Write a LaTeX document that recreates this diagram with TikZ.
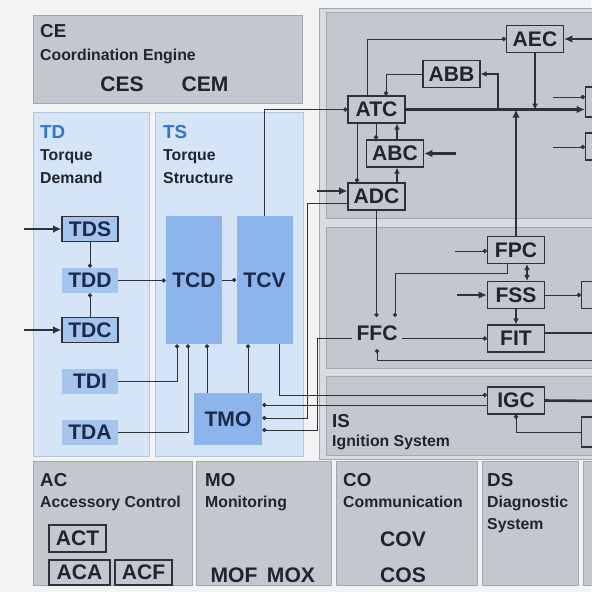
\documentclass[tikz,border=0pt]{standalone}
\usepackage{fontspec}
\setmainfont{Liberation Sans}
\usetikzlibrary{arrows.meta}

\definecolor{fondo}{HTML}{F1F3F5}
\definecolor{grigio}{HTML}{C4C8CE}
\definecolor{grigiochiaro}{HTML}{D8DBDF}
\definecolor{bordo}{HTML}{A2A7AE}
\definecolor{azzurro}{HTML}{D5E4F6}
\definecolor{bordoazz}{HTML}{B2C6DE}
\definecolor{blu}{HTML}{8CB5EC}
\definecolor{blumedio}{HTML}{A5C5EF}
\definecolor{titblu}{HTML}{2F74D0}
\definecolor{testo}{HTML}{1E2430}
\definecolor{testoazz}{HTML}{1C2A48}
\definecolor{filo}{HTML}{2E3138}

\newcommand\blkfont{\fontsize{18}{18}\selectfont\bfseries}
\newcommand\siglafont{\fontsize{16}{16}\selectfont\bfseries}
\newcommand\nomefont{\fontsize{13.5}{13.5}\selectfont\bfseries}

\begin{document}
\begin{tikzpicture}[x=0.03cm, y=-0.03cm,
  pan/.style={fill=grigio, draw=bordo, line width=0.6pt},
  panazz/.style={fill=azzurro, draw=bordoazz, line width=0.6pt},
  sigla/.style={anchor=base west, inner sep=0pt, font=\siglafont, text=testo},
  nome/.style={anchor=base west, inner sep=0pt, font=\nomefont, text=testo},
  blk/.style={draw=filo, line width=1.1pt, fill=grigio, inner sep=0pt,
    minimum width=1.71cm, minimum height=0.81cm, font=\blkfont, text=testo},
  blkazz/.style={blk, fill=blumedio, minimum width=1.68cm, minimum height=0.75cm, text=testoazz},
  blkpiano/.style={fill=blumedio, inner sep=0pt, minimum width=1.68cm,
    minimum height=0.75cm, font=\blkfont, text=testoazz},
  colonna/.style={fill=blu, inner sep=0pt, minimum width=1.68cm,
    minimum height=3.84cm, font=\blkfont, text=testoazz},
  nudo/.style={inner sep=0pt, font=\blkfont, text=testo},
  sottile/.style={draw=filo, line width=0.8pt, -{Circle[length=3.6pt]}},
  spesso/.style={draw=filo, line width=2.2pt, -{Latex[length=7pt,width=6.5pt]}},
  medio/.style={draw=filo, line width=1.6pt, -{Latex[length=5pt,width=5pt]}}]

\useasboundingbox (0,0) rectangle (591,592);
\fill[fondo] (0,0) rectangle (591,592);

% pannelli
\draw[pan] (33,15) rectangle (302,103);
\draw[panazz] (33,112) rectangle (149,456);
\draw[panazz] (155,112) rectangle (303,456);
\draw[fill=grigiochiaro, draw=bordo, line width=0.6pt] (319,8) rectangle (598,459);
\draw[pan] (326,12) rectangle (598,218);
\draw[pan] (326,227) rectangle (598,368);
\draw[pan] (326,376) rectangle (598,455);
\draw[pan] (33,461) rectangle (192,585);
\draw[pan] (196,461) rectangle (331,585);
\draw[pan] (336,461) rectangle (477,585);
\draw[pan] (482,461) rectangle (578,585);
\draw[pan] (583,461) rectangle (598,585);

% titoli
\node[sigla] (ce) at (40,38) {CE};
\node[nome] (cenome) at (40,61) {Coordination Engine};
\node[nudo, anchor=base] (ces) at (122,92) {CES};
\node[nudo, anchor=base] (cem) at (205,92) {CEM};
\node[sigla, text=titblu] (td) at (40,139) {TD};
\node[nome] (tdnome1) at (40,161) {Torque};
\node[nome] (tdnome2) at (40,183) {Demand};
\node[sigla, text=titblu] (ts) at (163,139) {TS};
\node[nome] (tsnome1) at (163,161) {Torque};
\node[nome] (tsnome2) at (163,183) {Structure};
\node[sigla] (is) at (332,427) {IS};
\node[nome] (isnome) at (332,446) {Ignition System};
\node[sigla] (ac) at (40,486) {AC};
\node[nome] (acnome) at (40,507) {Accessory Control};
\node[sigla] (mo) at (205,486) {MO};
\node[nome] (monome) at (205,507) {Monitoring};
\node[sigla] (co) at (343,486) {CO};
\node[nome] (conome) at (343,507) {Communication};
\node[sigla] (ds) at (487,486) {DS};
\node[nome] (dsnome1) at (487,507) {Diagnostic};
\node[nome] (dsnome2) at (487,529) {System};

% blocchi TD e TS
\node[blkazz] (tds) at (90,229) {TDS};
\node[blkpiano] (tdd) at (90,280.5) {TDD};
\node[blkazz] (tdc) at (90,330) {TDC};
\node[blkpiano] (tdi) at (90,381) {TDI};
\node[blkpiano] (tda) at (90,432) {TDA};
\node[colonna] (tcd) at (194,280) {TCD};
\node[colonna] (tcv) at (264.5,280) {TCV};
\node[colonna, minimum width=2.04cm, minimum height=1.56cm] (tmo) at (228,419) {TMO};

% blocchi a destra
\node[blk] (aec) at (535,39) {AEC};
\node[blk] (abb) at (451.5,74) {ABB};
\node[blk] (atc) at (376.5,109.5) {ATC};
\node[blk] (abc) at (395,153.5) {ABC};
\node[blk] (adc) at (376.5,196.5) {ADC};
\node[blk] (fpc) at (516,250) {FPC};
\node[blk] (fss) at (516,295) {FSS};
\node[blk] (fit) at (516,338.5) {FIT};
\node[blk] (igc) at (516,400.5) {IGC};
\node[nudo, minimum width=1.5cm, minimum height=0.95cm] (ffc) at (377,333) {FFC};
\node[blk, minimum height=0.9cm] (d1) at (614,102) {};
\node[blk] (d2) at (614,146.5) {};
\node[blk] (d3) at (610,295) {};
\node[blk, minimum height=0.9cm] (d4) at (610,432) {};

% blocchi in basso
\node[blk] (act) at (77.5,538.5) {ACT};
\node[blk, minimum width=1.83cm, minimum height=0.75cm] (aca) at (79.5,572.5) {ACA};
\node[blk, minimum height=0.75cm] (acf) at (143.5,572.5) {ACF};
\node[nudo, anchor=base] (mof) at (234,582) {MOF};
\node[nudo, anchor=base] (mox) at (291,582) {MOX};
\node[nudo, anchor=base] (cov) at (403,546) {COV};
\node[nudo, anchor=base] (cos) at (403,582) {COS};

% estremi liberi
\coordinate (inTDS) at (24,229);
\coordinate (inTDC) at (24,330);
\coordinate (inADC) at (317,191);
\coordinate (inABC) at (456,153.5);
\coordinate (inAEC) at (600,39);
\coordinate (inE1) at (553,97);
\coordinate (inE2) at (553,147);
\coordinate (inFPC) at (455,251);
\coordinate (inFSS) at (457,295);
\coordinate (inFFC) at (600,360);
\coordinate (outFIT) at (600,333);
\coordinate (outIGC) at (600,401);

% collegamenti TD / TS
\draw[spesso] (inTDS) -- (tds.west);
\draw[spesso] (inTDC) -- (tdc.west);
\draw[sottile] (tds) -- (tdd);
\draw[sottile] (tdc) -- (tdd);
\draw[sottile] (tdd.east) -- (tdd.east -| tcd.west);
\draw[sottile] (tcd.east) -- (tcv.west);
\draw[sottile] (tdi.east) -| (tcd.south -| 177,0);
\draw[sottile] (tda.east) -| (tcd.south -| 188,0);
\draw[sottile] (tmo.north -| 207,0) -- (tcd.south -| 207,0);
\draw[sottile] (tmo.north -| 248,0) -- (tcv.south -| 248,0);
\draw[sottile] (tcv.north) |- (atc.west);
\draw[sottile] (tcv.south -| 279,0) |- (igc.west |- 0,395);
\draw[sottile] (igc.west |- 0,405) -- (tmo.east |- 0,405);
\draw[sottile] (adc.west |- 0,203) -| (307,418) -- (tmo.east |- 0,418);
\draw[sottile] (ffc.west |- 0,338) -| (317,430) -- (tmo.east |- 0,430);

% collegamenti aria
\draw[sottile] (atc.north -| 367,0) |- (aec.west);
\draw[spesso] (inAEC) -- (aec.east);
\draw[medio] (aec.south) -- (aec.south |- atc.east);
\draw[spesso] (atc.east) -- (atc.east -| d1.west);
\draw[sottile] (abb.west) -| (atc.north -| 386,0);
\draw[medio] (atc.east -| 498,0) |- (abb.east);
\draw[sottile] (atc.south -| 376,0) -- (abc.north -| 376,0);
\draw[medio] (abc.north -| 397,0) -- (atc.south -| 397,0);
\draw[medio] (adc.north -| 397,0) -- (abc.south -| 397,0);
\draw[sottile] (atc.south -| 357,0) -- (adc.north -| 357,0);
\draw[spesso] (inABC) -- (abc.east);
\draw[spesso] (inADC) -- (inADC -| adc.west);
\draw[sottile] (inE1) -- (inE1 -| d1.west);
\draw[sottile] (inE2) -- (inE2 -| d2.west);

% collegamenti carburante
\draw[spesso] (fpc.north) -- (fpc.north |- atc.east);
\draw[sottile] (inFPC) -- (inFPC -| fpc.west);
\draw[spesso] (inFSS) -- (fss.west);
\draw[medio, {Latex[length=5pt,width=5pt]}-{Latex[length=5pt,width=5pt]}]
  (fpc.south -| 527,0) -- (fss.north -| 527,0);
\draw[medio] (fss.south) -- (fit.north);
\draw[sottile] (fss.east) -- (d3.west);
\draw[sottile] (adc.south) -- (adc.south |- ffc.north);
\draw[sottile] (fpc.south -| 507,0) -- (507,273) -| (ffc.north -| 395,0);
\draw[sottile] (ffc.east |- fit.west) -- (fit.west);
\draw[sottile] (inFFC) -| (ffc.south);
\draw[spesso, -] (fit.east |- outFIT) -- (outFIT);

% accensione
\draw[spesso, -] (igc.east) -- (outIGC);
\draw[sottile] (d4.west) -| (igc.south);

\end{tikzpicture}
\end{document}
